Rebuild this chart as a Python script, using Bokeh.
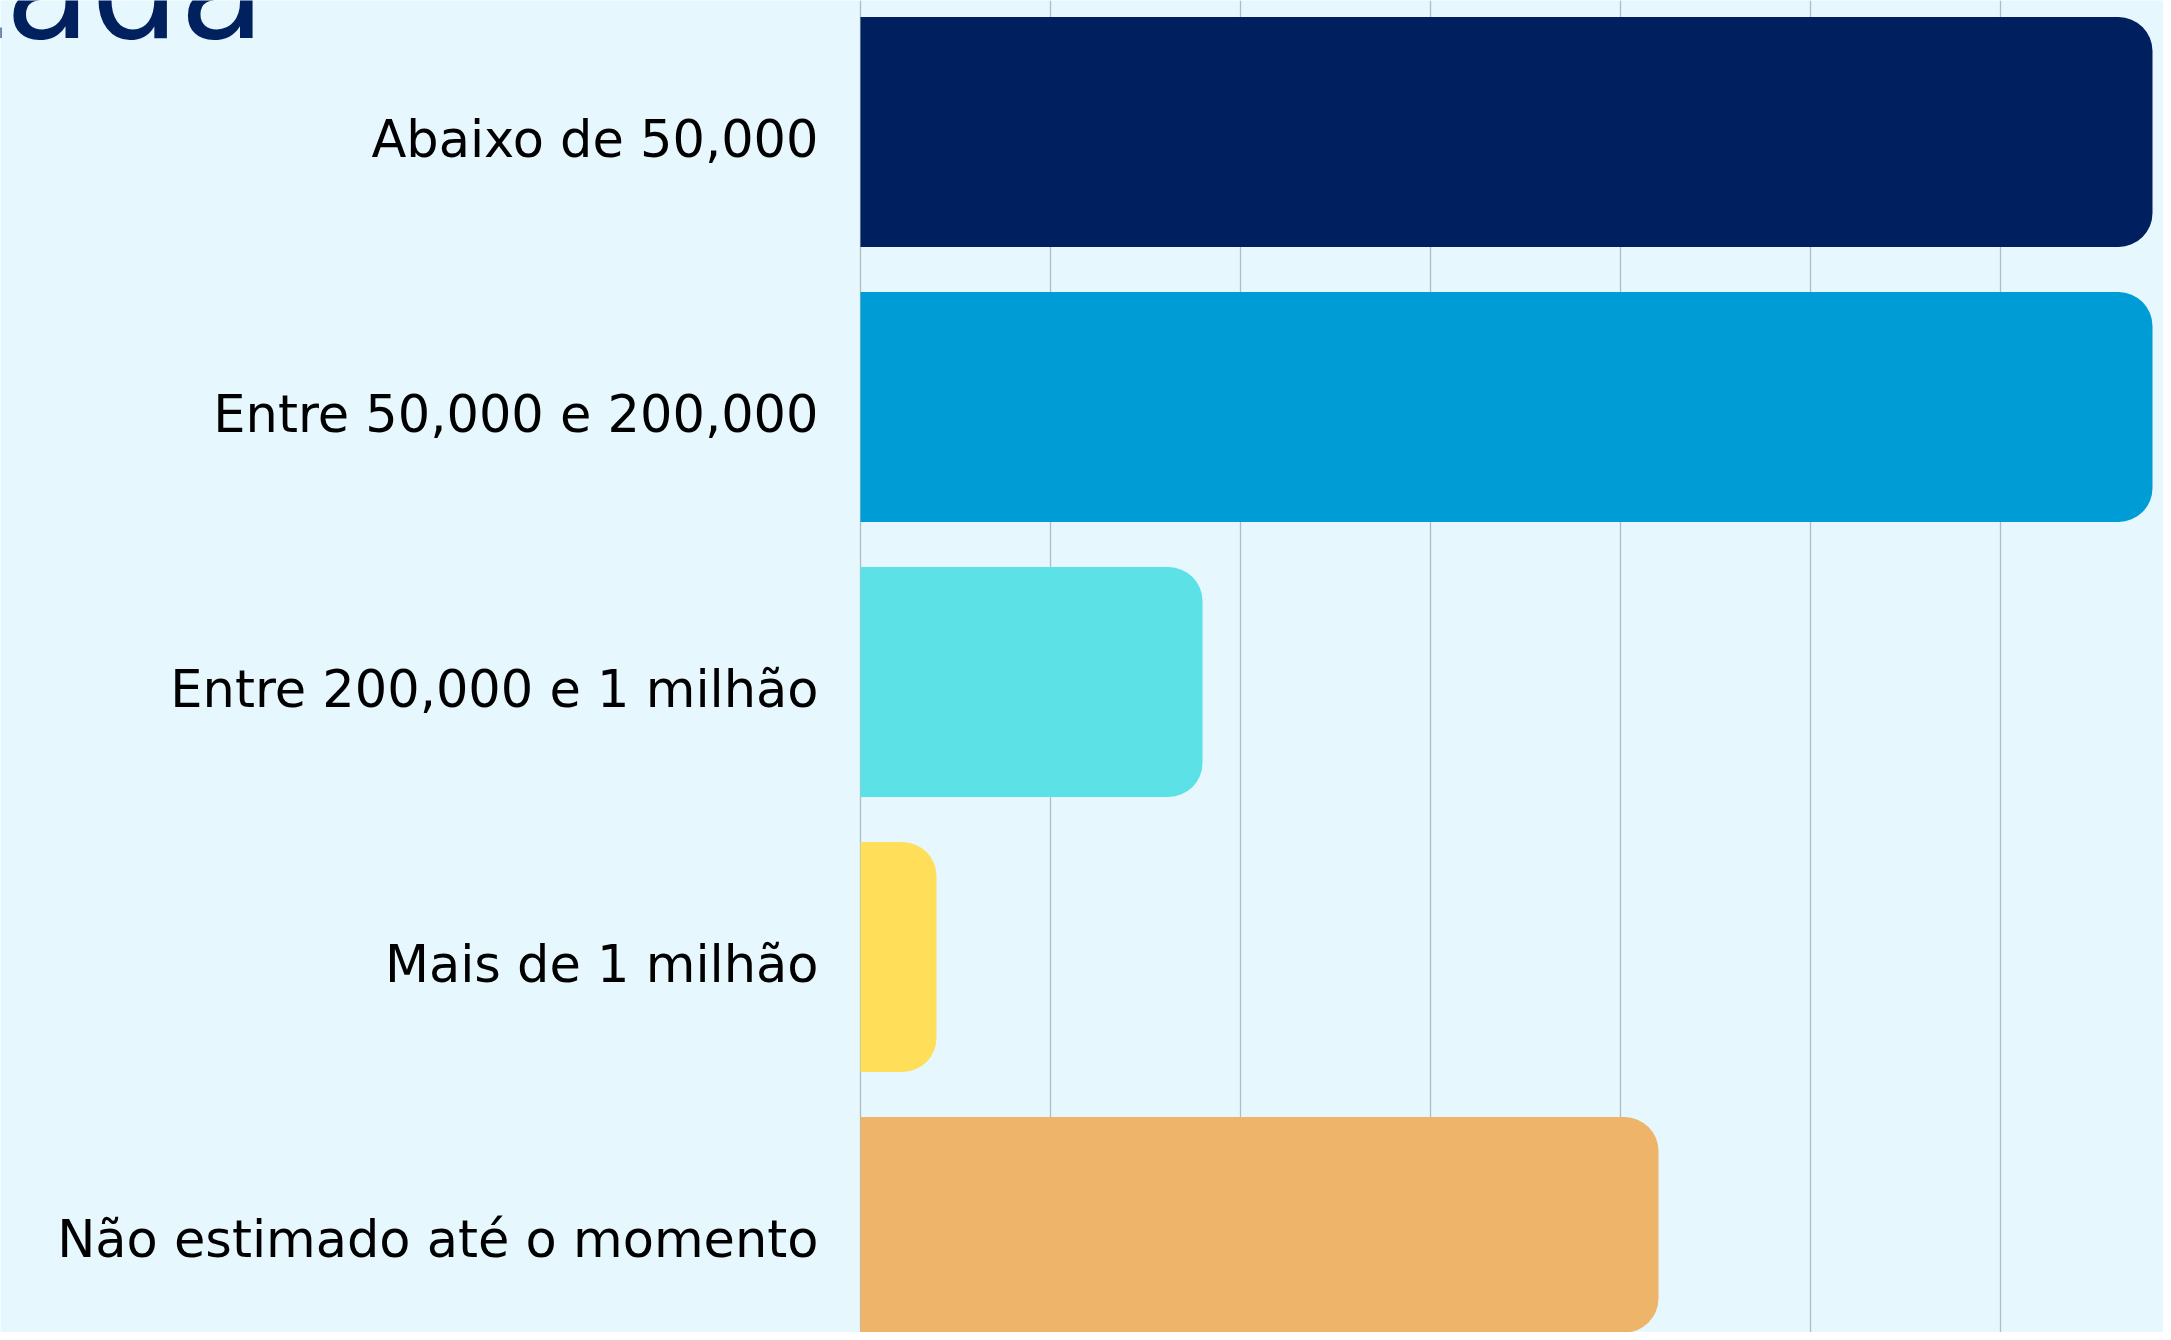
from bokeh.plotting import figure
from bokeh.models import Range1d, SingleIntervalTicker, Label, ColumnDataSource
from bokeh.embed import file_html
from bokeh.resources import INLINE

# ---- data ----
categories = [
    "Abaixo de 50,000",
    "Entre 50,000 e 200,000",
    "Entre 200,000 e 1 milhão",
    "Mais de 1 milhão",
    "Não estimado até o momento",
]
values = [34, 34, 9, 2, 21]
bar_colors = ["#001F5E", "#009CD6", "#5CE1E6", "#FFDE59", "#EEB469"]
title_fragment = "tada"

BG = "#E6F7FE"
GRID = "#AEBCC4"

W, H = 2163, 1332
AXIS_X = 860.0      # pixel of value 0
PX_PER_UNIT = 38.0  # 5 units = 190 px
BAND = 275.0        # px per category
TOP_CENTER = 131.5  # px of first bar centre

positions = list(range(len(categories)))
src = ColumnDataSource(dict(y=positions, v=values, c=bar_colors, cat=categories,
                            zero=[0] * len(values)))

p = figure(
    width=W,
    height=H,
    min_border_left=0,
    min_border_right=0,
    min_border_top=0,
    min_border_bottom=0,
    x_range=Range1d(-AXIS_X / PX_PER_UNIT, (W - AXIS_X) / PX_PER_UNIT),
    y_range=Range1d(start=-TOP_CENTER / BAND + H / BAND, end=-TOP_CENTER / BAND),
    x_axis_location=None,
    y_axis_location=None,
    output_backend="svg",
    toolbar_location=None,
)
p.background_fill_color = BG
p.border_fill_color = BG
p.outline_line_color = None

p.xgrid.ticker = SingleIntervalTicker(interval=5)
p.xgrid.bounds = (0, 100)
p.xgrid.grid_line_color = GRID
p.xgrid.grid_line_width = 1.3
p.ygrid.grid_line_color = None

p.hbar(y="y", left=0, right="v", height=0.836, fill_color="c", line_color=None,
       border_radius=(0, 34, 34, 0), source=src)

# category labels (act as the y axis)
p.text(x="zero", y="y", text="cat", source=src, x_offset=-42, y_offset=7.5,
       text_align="right", text_baseline="alphabetic",
       text_font={"value": "DejaVu Sans"}, text_font_size="51px", text_color="#000000")

title = Label(x=-50.5, y=H + 11, x_units="screen", y_units="screen", text=title_fragment,
              text_font="DejaVu Sans", text_font_size="140px", text_color="#00205E",
              text_baseline="alphabetic", text_align="left")
p.add_layout(title)

open("out.html", "w").write(file_html(p, INLINE))
